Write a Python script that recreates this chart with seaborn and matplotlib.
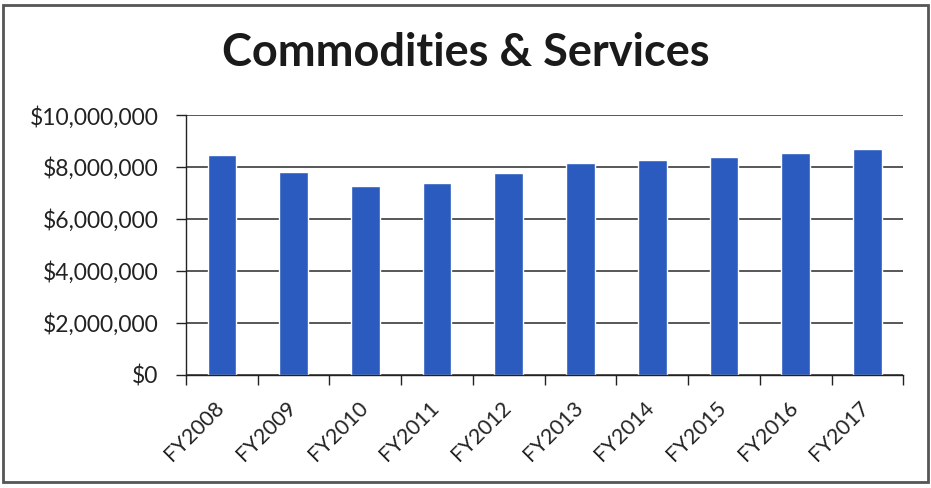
import matplotlib
matplotlib.use("Agg")
import matplotlib.pyplot as plt
import matplotlib.ticker as mticker
import matplotlib.transforms as mtransforms
from matplotlib.patches import Rectangle
import seaborn as sns
import pandas as pd

# Fiscal-year spending on commodities & services
years = ["FY2008", "FY2009", "FY2010", "FY2011", "FY2012",
         "FY2013", "FY2014", "FY2015", "FY2016", "FY2017"]
spending = [8460000, 7820000, 7270000, 7400000, 7780000,
            8140000, 8270000, 8400000, 8530000, 8680000]
y_ticks = [0, 2000000, 4000000, 6000000, 8000000, 10000000]
title = "Commodities & Services"

df = pd.DataFrame({"year": years, "spending": spending})

sns.set_theme(style="white")
plt.rcParams["font.family"] = ["Lato", "DejaVu Sans"]

fig = plt.figure(figsize=(9.31, 4.88), dpi=100)
ax = fig.add_axes([0.1998, 0.2316, 0.7704, 0.5327])

sns.barplot(data=df, x="year", y="spending", color="#2B5BBF",
            width=0.4, saturation=1, ax=ax)

ax.set_xlim(-0.5, len(years) - 0.5)
ax.set_ylim(0, 10000000)
ax.set_yticks(y_ticks)
ax.yaxis.set_major_formatter(mticker.FuncFormatter(lambda v, p: f"${v:,.0f}"))
ax.grid(axis="y", color="#2a2a2a", linewidth=1.1)
ax.set_axisbelow(True)

for side in ("top", "right"):
    ax.spines[side].set_visible(False)
ax.spines["left"].set_color("#222222")
ax.spines["bottom"].set_color("#222222")
ax.spines["left"].set_linewidth(1.0)
ax.spines["bottom"].set_linewidth(1.0)

ax.tick_params(axis="y", which="major", left=True, length=7, width=1,
               color="#222222", labelsize=16.5, labelcolor="#222222", pad=13)
ax.set_xticks(range(len(years)))
ax.set_xticklabels(years, rotation=45, ha="right", rotation_mode="anchor")
ax.tick_params(axis="x", which="major", bottom=False, length=0,
               labelsize=15.5, labelcolor="#222222", pad=16)
shift = mtransforms.ScaledTranslation(-8 / 100, 0, fig.dpi_scale_trans)
for lbl in ax.get_xticklabels():
    lbl.set_transform(lbl.get_transform() + shift)
ax.set_xticks([i - 0.5 for i in range(len(years) + 1)], minor=True)
ax.tick_params(axis="x", which="minor", bottom=True, length=7, width=1,
               color="#222222")

ax.set_xlabel("")
ax.set_ylabel("")

fig.text(0.5, 0.892, title, ha="center", va="center",
         fontsize=32.5, fontweight="bold", color="#1a1a1a")

fig.patches.append(Rectangle((0.003, 0.012), 0.994, 0.978,
                             transform=fig.transFigure, fill=False,
                             edgecolor="#555555", linewidth=2.0))

fig.savefig("out.png", dpi=100)
